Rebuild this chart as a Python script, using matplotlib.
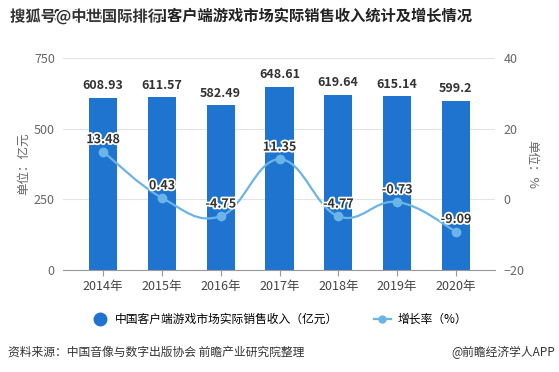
import matplotlib
matplotlib.use('Agg')
import matplotlib.pyplot as plt
import matplotlib.patheffects as pe
from matplotlib.path import Path
from matplotlib.patches import PathPatch
from matplotlib.lines import Line2D
import numpy as np

plt.rcParams['font.family'] = ['Noto Sans CJK SC', 'DejaVu Sans']

# Data
years = ['2014年', '2015年', '2016年', '2017年', '2018年', '2019年', '2020年']
revenue = [608.93, 611.57, 582.49, 648.61, 619.64, 615.14, 599.2]
growth = [13.48, 0.43, -4.75, 11.35, -4.77, -0.73, -9.09]

bar_color = '#1f74d0'
line_color = '#6ab4e8'
grey = '#666666'

fig = plt.figure(figsize=(5.59, 3.72), dpi=100)
ax = fig.add_axes([0.113, 0.274, 0.773, 0.570])
ax2 = ax.twinx()

x = np.arange(len(years))
ax.bar(x, revenue, width=0.48, color=bar_color, zorder=2)
ax.set_xlim(-0.68, 6.67)
ax.set_ylim(0, 750)
ax.set_yticks([0, 250, 500, 750])
ax.grid(axis='y', color='#e3e3e3', linewidth=0.8, zorder=0)
ax.set_axisbelow(True)
ax.set_xticks(x)
ax.set_xticklabels(years)
for s in ['top', 'right', 'left']:
    ax.spines[s].set_visible(False)
ax.spines['bottom'].set_color('#999999')
ax.tick_params(axis='x', colors='#999999', labelcolor='#444444', labelsize=9, length=4)
ax.tick_params(axis='y', length=0, labelcolor=grey, labelsize=9, pad=6)
ax.set_ylabel('单位：亿元', color=grey, fontsize=9, labelpad=3)

for xi, v in zip(x, revenue):
    ax.annotate(f'{v:g}', (xi, v), xytext=(0, 4), textcoords='offset points',
                ha='center', va='bottom', fontsize=9, fontweight='bold', color='#333333')

# growth line, smooth curve through the points
ax2.set_ylim(-20, 40)
ax2.set_yticks([-20, 0, 20, 40])
for s in ['top', 'right', 'left', 'bottom']:
    ax2.spines[s].set_visible(False)
ax2.tick_params(axis='y', length=0, labelcolor=grey, labelsize=9, pad=6)
ax2.set_ylabel('单位：%', color=grey, fontsize=9, rotation=-90, labelpad=10)

pts = np.column_stack([x, growth]).astype(float)
k = 0.2
verts = [pts[0]]
codes = [Path.MOVETO]
for i in range(len(pts) - 1):
    p0 = pts[max(i - 1, 0)]
    p1 = pts[i]
    p2 = pts[i + 1]
    p3 = pts[min(i + 2, len(pts) - 1)]
    c1 = p1 + (p2 - p0) * k
    c2 = p2 - (p3 - p1) * k
    verts += [c1, c2, p2]
    codes += [Path.CURVE4] * 3
ax2.add_patch(PathPatch(Path(verts, codes), facecolor='none', edgecolor=line_color,
                        linewidth=1.6, zorder=3))
ax2.plot(x, growth, 'o', color=line_color, markersize=6, zorder=4)

for xi, v in zip(x, growth):
    ax2.annotate(f'{v:g}', (xi, v), xytext=(0, 4), textcoords='offset points',
                 ha='center', va='bottom', fontsize=9, fontweight='bold', color='#333333',
                 path_effects=[pe.withStroke(linewidth=2.5, foreground='white')], zorder=5)

# legend
handles = [Line2D([], [], marker='o', linestyle='none', color=bar_color, markersize=9),
           Line2D([], [], marker='o', color=line_color, linewidth=1.6, markersize=5)]
fig.legend(handles, ['中国客户端游戏市场实际销售收入（亿元）', '增长率（%）'],
           loc='center', bbox_to_anchor=(0.5, 0.142), ncol=2, frameon=False,
           fontsize=8.5, handlelength=1.4, columnspacing=3, handletextpad=0.6)

# title and footer
fig.text(0.08, 0.955, '2014-2020年中国客户端游戏市场实际销售收入统计及增长情况',
         fontsize=11, fontweight='bold', color='#222222', va='center')
fig.text(0.018, 0.955, '搜狐号@中世国际排行', fontsize=11, fontweight='bold', color='#333333',
         va='center', path_effects=[pe.withStroke(linewidth=2, foreground='white')])
fig.text(0.014, 0.053, '资料来源：中国音像与数字出版协会 前瞻产业研究院整理',
         fontsize=8.5, color='#333333', va='center')
fig.text(0.993, 0.053, '@前瞻经济学人APP', fontsize=8.5, color='#333333',
         va='center', ha='right')

fig.savefig('out.png', dpi=100)
